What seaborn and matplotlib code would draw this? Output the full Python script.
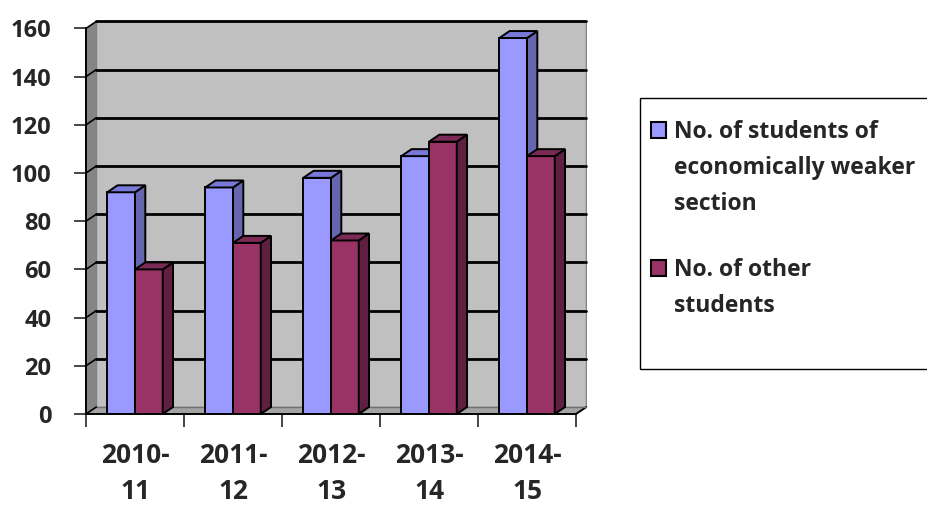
import seaborn as sns
import matplotlib.pyplot as plt
import pandas as pd
import numpy as np
from matplotlib.patches import Polygon, Rectangle

years = ['2010-\n11', '2011-\n12', '2012-\n13', '2013-\n14', '2014-\n15']
weaker = [92, 94, 98, 107, 156]
other = [60, 71, 72, 113, 107]
series = ['No. of students of\neconomically weaker\nsection', 'No. of other\nstudents']
yticks = [0, 20, 40, 60, 80, 100, 120, 140, 160]

front = ['#9999FF', '#993366']
side = ['#6666B0', '#5E1F40']
top = ['#7878D6', '#7A2A54']

df = pd.DataFrame({
    'year': years * 2,
    'count': weaker + other,
    'group': [series[0]] * len(years) + [series[1]] * len(years),
})

sns.set_style('white')
plt.rcParams['font.family'] = ['Open Sans', 'DejaVu Sans']
plt.rcParams['font.weight'] = 'bold'

W, H = 928, 505
fig = plt.figure(figsize=(W / 100, H / 100), dpi=100)
ax = fig.add_axes([86 / W, (H - 414) / H, (587 - 86) / W, (414 - 21) / H])

sns.barplot(data=df, x='year', y='count', hue='group', palette=front, width=0.566,
            saturation=1, edgecolor='black', linewidth=1.4, legend=False, ax=ax, zorder=3)
bars = list(ax.patches)

n = len(years)
dx = 0.105   # depth offset in x (data units)
dy = 2.9     # depth offset in y (data units)
x0, x1 = -0.5, n - 0.5
ymax = yticks[-1]

# walls and floor
ax.add_patch(Polygon([(x0 + dx, dy), (x1 + dx, dy), (x1 + dx, ymax + dy), (x0 + dx, ymax + dy)],
                     closed=True, facecolor='#C0C0C0', edgecolor='#808080', lw=1, zorder=0))
ax.add_patch(Polygon([(x0, 0), (x0 + dx, dy), (x0 + dx, ymax + dy), (x0, ymax)],
                     closed=True, facecolor='#858585', edgecolor='none', zorder=0.5))
ax.add_patch(Polygon([(x0, 0), (x1, 0), (x1 + dx, dy), (x0 + dx, dy)],
                     closed=True, facecolor='#A4A4A4', edgecolor='none', zorder=0.5))
ax.plot([x1, x1 + dx], [0, dy], color='black', lw=1.4, zorder=1, clip_on=False)
for y in yticks:
    c, lw = ('#707070', 1) if y == 0 else ('black', 2)
    ax.plot([x0 + dx, x1 + dx], [y + dy, y + dy], color=c, lw=lw, zorder=1, clip_on=False)
    ax.plot([x0, x0 + dx], [y, y + dy], color='black', lw=1.2, zorder=1, clip_on=False)

# 3d sides and tops of the bars
for i, p in enumerate(bars):
    k = i // n
    bx, bw, bh = p.get_x(), p.get_width(), p.get_height()
    z = 3 + k + 0.1
    p.set_zorder(3 + k)
    ax.add_patch(Polygon([(bx + bw, 0), (bx + bw + dx, dy), (bx + bw + dx, bh + dy), (bx + bw, bh)],
                         closed=True, facecolor=side[k], edgecolor='black', lw=1.4, zorder=z))
    ax.add_patch(Polygon([(bx, bh), (bx + bw, bh), (bx + bw + dx, bh + dy), (bx + dx, bh + dy)],
                         closed=True, facecolor=top[k], edgecolor='black', lw=1.4, zorder=z))

ax.set_xlim(x0, x1 + 0.112)
ax.set_ylim(0, (414 - 21) / 2.41)

for s in ['top', 'right']:
    ax.spines[s].set_visible(False)
ax.spines['left'].set_bounds(0, ymax)
ax.spines['bottom'].set_bounds(x0, x1)
for s in ['left', 'bottom']:
    ax.spines[s].set_color('black')
    ax.spines[s].set_linewidth(1.4)
    ax.spines[s].set_zorder(6)

ax.set_yticks(yticks)
ax.set_yticklabels([str(v) for v in yticks])
ax.set_xticks(np.arange(n + 1) - 0.5)
ax.set_xticklabels([])
ax.set_xticks(np.arange(n), minor=True)
ax.set_xticklabels(years, minor=True, linespacing=1.42)
ax.tick_params(axis='y', length=9, width=1.2, pad=16, labelsize=17, left=True)
ax.tick_params(axis='x', which='major', length=9, width=1.2, bottom=True)
ax.tick_params(axis='x', which='minor', length=0, pad=20, labelsize=19)
for t in ax.get_yticklabels() + ax.get_xticklabels(minor=True):
    t.set_fontweight('bold')
ax.set_xlabel('')
ax.set_ylabel('')

# legend box
fig.patches.append(Rectangle((640 / W, (H - 369) / H), 300 / W, (369 - 98) / H,
                             transform=fig.transFigure, fill=False, edgecolor='black', lw=1))
entry_base = [138, 276]
for k in range(2):
    fig.patches.append(Rectangle((651 / W, (H - entry_base[k]) / H), 15 / W, 16 / H,
                                 transform=fig.transFigure, facecolor=front[k],
                                 edgecolor='black', lw=1.5))
    for j, line in enumerate(series[k].split('\n')):
        fig.text(674 / W, (H - entry_base[k] - 36 * j) / H, line, fontsize=16.5,
                 fontweight='bold', ha='left', va='baseline', transform=fig.transFigure)

fig.savefig('out.png', dpi=100)
